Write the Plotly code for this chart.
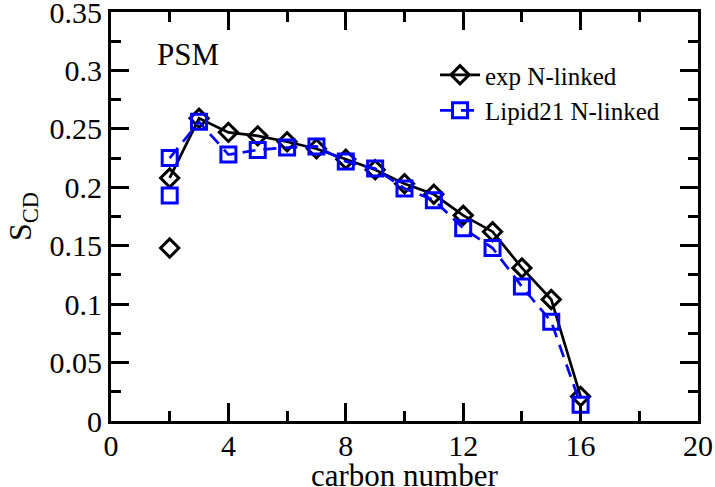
import plotly.graph_objects as go

carbon = [2, 3, 4, 5, 6, 7, 8, 9, 10, 11, 12, 13, 14, 15, 16]
exp_nlinked = [0.208, 0.259, 0.247, 0.244, 0.239, 0.233, 0.224, 0.215, 0.203, 0.194, 0.176, 0.162, 0.131, 0.104, 0.021]
exp_extra_x = [2]
exp_extra_y = [0.148]
lipid21_nlinked = [0.225, 0.256, 0.228, 0.232, 0.234, 0.235, 0.222, 0.216, 0.199, 0.189, 0.165, 0.148, 0.115, 0.085, 0.014]
lipid21_extra_x = [2]
lipid21_extra_y = [0.193]

x_ticks = [0, 4, 8, 12, 16, 20]
x_tick_labels = ["0", "4", "8", "12", "16", "20"]
y_ticks = [0, 0.05, 0.1, 0.15, 0.2, 0.25, 0.3, 0.35]
y_tick_labels = ["0", "0.05", "0.1", "0.15", "0.2", "0.25", "0.3", "0.35"]

FONT = "Liberation Serif"
BLUE = "#0000ff"

fig = go.Figure()

fig.add_trace(go.Scatter(
    x=carbon, y=exp_nlinked, mode="lines+markers", name="exp N-linked",
    line=dict(color="black", width=2.7),
    marker=dict(symbol="diamond-open", size=14, color="black", line=dict(width=3, color="black")),
))
fig.add_trace(go.Scatter(
    x=exp_extra_x, y=exp_extra_y, mode="markers", showlegend=False,
    marker=dict(symbol="diamond-open", size=14, color="black", line=dict(width=3, color="black")),
))
fig.add_trace(go.Scatter(
    x=carbon, y=lipid21_nlinked, mode="lines+markers", name="Lipid21 N-linked",
    line=dict(color=BLUE, width=2.7, dash="13px,8px"),
    marker=dict(symbol="square-open", size=15, color=BLUE, line=dict(width=3, color=BLUE)),
))
fig.add_trace(go.Scatter(
    x=lipid21_extra_x, y=lipid21_extra_y, mode="markers", showlegend=False,
    marker=dict(symbol="square-open", size=15, color=BLUE, line=dict(width=3, color=BLUE)),
))

axis_common = dict(
    showgrid=False, zeroline=False, showline=True, linecolor="black", linewidth=3,
    mirror="ticks", ticks="inside", ticklen=18, tickwidth=2.5, tickcolor="black",
    tickfont=dict(family=FONT, size=30, color="black"), automargin=False,
    ticklabeloverflow="allow",
)

fig.update_xaxes(
    range=[0, 20], tickmode="array", tickvals=x_ticks, ticktext=x_tick_labels,
    minor=dict(dtick=2, tick0=0, ticks="inside", ticklen=10, tickwidth=2.5, tickcolor="black"),
    ticklabelstandoff=-4,
    **axis_common,
)
fig.update_yaxes(
    range=[0, 0.35], tickmode="array", tickvals=y_ticks, ticktext=y_tick_labels,
    minor=dict(dtick=0.025, tick0=0, ticks="inside", ticklen=10, tickwidth=2.5, tickcolor="black"),
    title=dict(text="S<sub>CD</sub>", font=dict(family=FONT, size=32, color="black"), standoff=9),
    ticklabelstandoff=0,
    **axis_common,
)

# x-axis title (placed as an annotation so it can sit at the figure's bottom edge)
fig.add_annotation(
    text="carbon number", xref="paper", yref="paper", x=0.5, y=-0.134,
    showarrow=False, font=dict(family=FONT, size=31, color="black"),
    xanchor="center", yanchor="middle",
)

fig.add_annotation(
    text="PSM", xref="paper", yref="paper", x=0.131, y=0.895,
    showarrow=False, font=dict(family=FONT, size=31, color="black"),
    xanchor="center", yanchor="middle",
)

fig.update_layout(
    width=715, height=487,
    margin=dict(l=111, r=17, t=12, b=66),
    paper_bgcolor="white", plot_bgcolor="white",
    font=dict(family=FONT, color="black"),
    legend=dict(
        x=0.552, y=0.902, xanchor="left", yanchor="top",
        bgcolor="rgba(0,0,0,0)", font=dict(family=FONT, size=25, color="black"),
        itemwidth=40, tracegroupgap=0,
    ),
)

fig.write_html("out.html", config={"displayModeBar": False},
               post_script="document.body.style.margin='0';")
